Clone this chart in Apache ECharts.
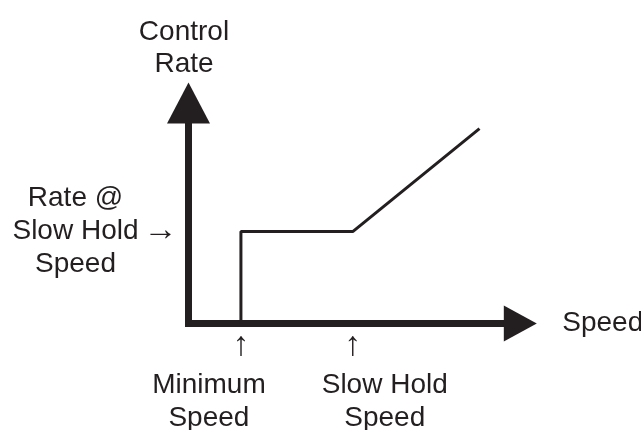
<!DOCTYPE html>
<html>
<head>
<meta charset="utf-8">
<script src="https://cdn.jsdelivr.net/npm/echarts@6/dist/echarts.min.js"></script>
<style>
  html, body { margin: 0; padding: 0; background: #fff; }
  #chart { width: 641px; height: 430px; }
</style>
</head>
<body>
<div id="chart"></div>
<script>
// control rate curve (speed vs rate, arbitrary units 0..100)
const speed = [15.8, 15.8, 49.5, 87.7]
const rate = [0, 41.7, 41.7, 88.4]
// marked speeds on the x axis
const markSpeeds = [15.8, 49.5]
const markLabels = ['Minimum\nSpeed', 'Slow Hold\nSpeed']
// marked rate on the y axis
const holdRate = 41.7
const holdLabel = 'Rate @\nSlow Hold\nSpeed'

const ink = '#231f20'
const font = 'Liberation Sans, Arial, Helvetica, sans-serif'

const chart = echarts.init(document.getElementById('chart'))

const axisCommon = {
  type: 'value',
  min: 0,
  max: 100,
  axisTick: { show: false },
  axisLabel: { show: false },
  splitLine: { show: false },
  nameTextStyle: { color: ink, fontSize: 28, fontFamily: font, lineHeight: 32 }
}

chart.setOption({
  animation: false,
  backgroundColor: '#fff',
  grid: { left: 188.5, right: 120.7, top: 103, bottom: 106.5, outerBoundsMode: 'none' },
  xAxis: Object.assign({}, axisCommon, {
    name: 'Speed',
    nameLocation: 'end',
    nameGap: 42,
    nameMoveOverlap: false,
    axisLine: {
      show: true,
      symbol: ['none', 'triangle'],
      symbolSize: [36, 33],
      lineStyle: { color: ink, width: 7, cap: 'square' }
    }
  }),
  yAxis: Object.assign({}, axisCommon, {
    name: 'Control\nRate',
    nameLocation: 'end',
    nameGap: 23,
    nameTextStyle: Object.assign({}, axisCommon.nameTextStyle, { padding: [0, 9, 0, 0] }),
    axisLine: {
      show: true,
      symbol: ['none', 'triangle'],
      symbolSize: [43, 41],
      lineStyle: { color: ink, width: 7, cap: 'square' }
    }
  }),
  series: [{
    type: 'line',
    data: speed.map((s, i) => [s, rate[i]]),
    showSymbol: false,
    lineStyle: { color: ink, width: 3 }
  }]
})

// annotations anchored to the data positions
const textStyle = (text, x, y, extra) => ({
  type: 'text',
  x: x,
  y: y,
  silent: true,
  style: Object.assign({
    text: text,
    fill: ink,
    fontSize: 28,
    fontFamily: font,
    lineHeight: 33,
    align: 'center',
    verticalAlign: 'middle'
  }, extra || {})
})

const graphics = []
markSpeeds.forEach((s, i) => {
  const p = chart.convertToPixel({ gridIndex: 0 }, [s, 0])
  graphics.push(textStyle('↑', p[0], p[1] + 22, { fontSize: 34 }))
  const dx = i === 0 ? -32 : 32
  graphics.push(textStyle(markLabels[i], p[0] + dx, p[1] + 78))
})
const hp = chart.convertToPixel({ gridIndex: 0 }, [0, holdRate])
graphics.push(textStyle('→', hp[0] - 28, hp[1] - 1, { fontSize: 34 }))
graphics.push(textStyle(holdLabel, hp[0] - 113, hp[1]))

chart.setOption({ graphic: graphics })
</script>
</body>
</html>
